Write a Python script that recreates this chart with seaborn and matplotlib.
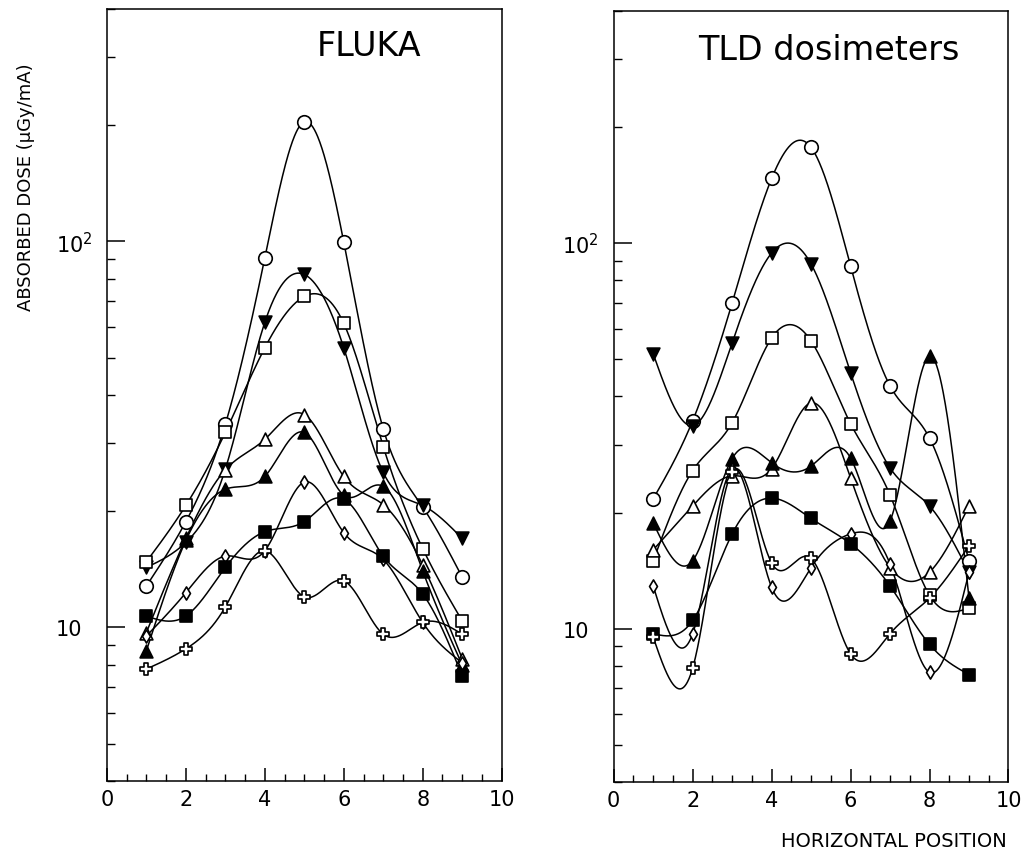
import numpy as np
import pandas as pd
import matplotlib
matplotlib.use("Agg")
import matplotlib.pyplot as plt
import seaborn as sns
from matplotlib.ticker import FixedLocator, NullFormatter, FixedFormatter, MultipleLocator

# ---------------- data ----------------
positions = [1, 2, 3, 4, 5, 6, 7, 8, 9]

# FLUKA panel
fluka_circle      = [12.8, 18.8, 33.6, 90.6, 204.0, 99.6, 32.7, 20.5, 13.5]
fluka_tri_down    = [14.3, 16.6, 25.7, 61.7, 82.1, 53.0, 25.2, 20.7, 17.0]
fluka_square      = [14.8, 20.7, 32.0, 53.0, 72.0, 61.3, 29.4, 16.0, 10.4]
fluka_tri_open    = [9.7, 17.0, 25.6, 30.7, 35.6, 24.6, 20.8, 14.5, 8.3]
fluka_tri_filled  = [8.7, 16.8, 22.8, 24.6, 32.0, 22.0, 23.2, 14.0, 8.0]
fluka_diamond     = [9.5, 12.3, 15.3, 15.8, 23.8, 17.6, 15.0, 10.3, 8.1]
fluka_sq_filled   = [10.7, 10.7, 14.3, 17.7, 18.8, 21.5, 15.3, 12.2, 7.5]
fluka_cross       = [7.8, 8.8, 11.3, 15.8, 12.0, 13.2, 9.6, 10.3, 9.6]

# TLD panel
tld_circle        = [21.7, 34.6, 69.9, 147.0, 177.0, 87.2, 42.6, 31.2, 15.0]
tld_tri_down      = [51.6, 33.6, 55.1, 94.2, 88.2, 46.1, 26.1, 20.8, 14.0]
tld_square        = [15.0, 25.7, 34.2, 56.7, 55.7, 34.0, 22.2, 12.2, 11.3]
tld_tri_open      = [16.0, 20.8, 24.9, 26.0, 38.5, 24.6, 14.4, 14.0, 20.8]
tld_tri_filled    = [18.8, 15.0, 27.6, 26.9, 26.4, 27.7, 19.0, 50.9, 12.0]
tld_diamond       = [12.9, 9.7, 26.0, 12.8, 14.4, 17.6, 14.7, 7.7, 14.0]
tld_sq_filled     = [9.7, 10.5, 17.6, 21.8, 19.3, 16.6, 12.9, 9.1, 7.6]
tld_cross         = [9.5, 7.9, 25.5, 14.8, 15.2, 8.6, 9.7, 12.0, 16.4]

panel_titles = ["FLUKA", "TLD dosimeters"]
x_ticklabels = ["0", "2", "4", "6", "8", "10"]
y_major_labels = ["10", "10$^2$"]
y_label = "ABSORBED DOSE (\u03bcGy/mA)"
x_label = "HORIZONTAL POSITION"

# marker style per series: (marker, filled, size)
styles = [
    ("o", False, 95),
    ("v", True, 85),
    ("s", False, 80),
    ("^", False, 85),
    ("^", True, 85),
    ("d", False, 45),
    ("s", True, 80),
    ("P", False, 75),
]

panels = [
    [fluka_circle, fluka_tri_down, fluka_square, fluka_tri_open,
     fluka_tri_filled, fluka_diamond, fluka_sq_filled, fluka_cross],
    [tld_circle, tld_tri_down, tld_square, tld_tri_open,
     tld_tri_filled, tld_diamond, tld_sq_filled, tld_cross],
]


def natural_spline(x, y, xs):
    """Natural cubic spline used only to draw the smooth connecting curve."""
    x = np.asarray(x, float)
    y = np.asarray(y, float)
    n = len(x)
    h = np.diff(x)
    A = np.zeros((n, n))
    b = np.zeros(n)
    A[0, 0] = 1
    A[-1, -1] = 1
    for i in range(1, n - 1):
        A[i, i - 1] = h[i - 1]
        A[i, i] = 2 * (h[i - 1] + h[i])
        A[i, i + 1] = h[i]
        b[i] = 6 * ((y[i + 1] - y[i]) / h[i] - (y[i] - y[i - 1]) / h[i - 1])
    M = np.linalg.solve(A, b)
    idx = np.clip(np.searchsorted(x, xs) - 1, 0, n - 2)
    x0, x1 = x[idx], x[idx + 1]
    hh = x1 - x0
    t0 = x1 - xs
    t1 = xs - x0
    return (M[idx] * t0 ** 3 / (6 * hh) + M[idx + 1] * t1 ** 3 / (6 * hh)
            + (y[idx] / hh - M[idx] * hh / 6) * t0
            + (y[idx + 1] / hh - M[idx + 1] * hh / 6) * t1)


sns.set_style("ticks")
plt.rcParams["font.family"] = ["DejaVu Sans"]
plt.rcParams["mathtext.default"] = "regular"
plt.rcParams["text.color"] = "black"
plt.rcParams["xtick.color"] = "black"
plt.rcParams["ytick.color"] = "black"
plt.rcParams["xtick.labelcolor"] = "black"
plt.rcParams["ytick.labelcolor"] = "black"

fig = plt.figure(figsize=(10.28, 8.54), dpi=100)
ax_rects = [[0.104, 0.0843, 0.384, 0.904], [0.597, 0.0831, 0.384, 0.903]]
title_pos = [(0.665, 0.953), (0.545, 0.950)]

for p, (rect, series_list) in enumerate(zip(ax_rects, panels)):
    ax = fig.add_axes(rect)
    ax.set_yscale("log")
    xs = np.linspace(1, 9, 600)
    for vals, (mk, filled, size) in zip(series_list, styles):
        ys = 10 ** natural_spline(positions, np.log10(vals), xs)
        sns.lineplot(x=xs, y=ys, ax=ax, color="black", linewidth=1.1,
                     sort=False, estimator=None, zorder=2)
        sns.scatterplot(x=positions, y=vals, ax=ax, marker=mk, s=size,
                        facecolor="black" if filled else "white",
                        edgecolor="black", linewidth=1.2, zorder=3)
    ax.set_xlim(0, 10)
    ax.set_ylim(4, 400)

    ax.xaxis.set_major_locator(FixedLocator([0, 2, 4, 6, 8, 10]))
    ax.xaxis.set_major_formatter(FixedFormatter(x_ticklabels))
    ax.xaxis.set_minor_locator(MultipleLocator(0.5))
    ax.yaxis.set_major_locator(FixedLocator([10, 100]))
    ax.yaxis.set_major_formatter(FixedFormatter(y_major_labels))
    minors = [4, 5, 6, 7, 8, 9, 20, 30, 40, 50, 60, 70, 80, 90, 200, 300, 400]
    ax.yaxis.set_minor_locator(FixedLocator(minors))
    ax.yaxis.set_minor_formatter(NullFormatter())

    ax.tick_params(axis="x", which="major", direction="in", length=9.5,
                   width=1.1, labelsize=15, pad=6, top=False)
    ax.tick_params(axis="x", which="minor", direction="in", length=5,
                   width=1.0, top=False)
    ax.tick_params(axis="y", which="major", direction="in", length=13,
                   width=1.1, labelsize=15, pad=37, right=False)
    ax.tick_params(axis="y", which="minor", direction="in", length=6,
                   width=1.0, right=False)
    for lab in ax.get_yticklabels():
        lab.set_horizontalalignment("left")

    for sp in ax.spines.values():
        sp.set_visible(True)
        sp.set_linewidth(1.1)
        sp.set_color("black")

    ax.set_xlabel("")
    ax.set_ylabel("")
    ax.text(title_pos[p][0], title_pos[p][1], panel_titles[p],
            transform=ax.transAxes, ha="center", va="center", fontsize=24,
            color="black")

fig.text(26 / 1028, 1 - 187 / 854, y_label, rotation=90, ha="center",
         va="center", fontsize=13, color="black")
fig.text(1007 / 1028, 1 - 842 / 854, x_label, ha="right", va="center",
         fontsize=14, color="black")

fig.savefig("out.png", dpi=100, facecolor="white")
